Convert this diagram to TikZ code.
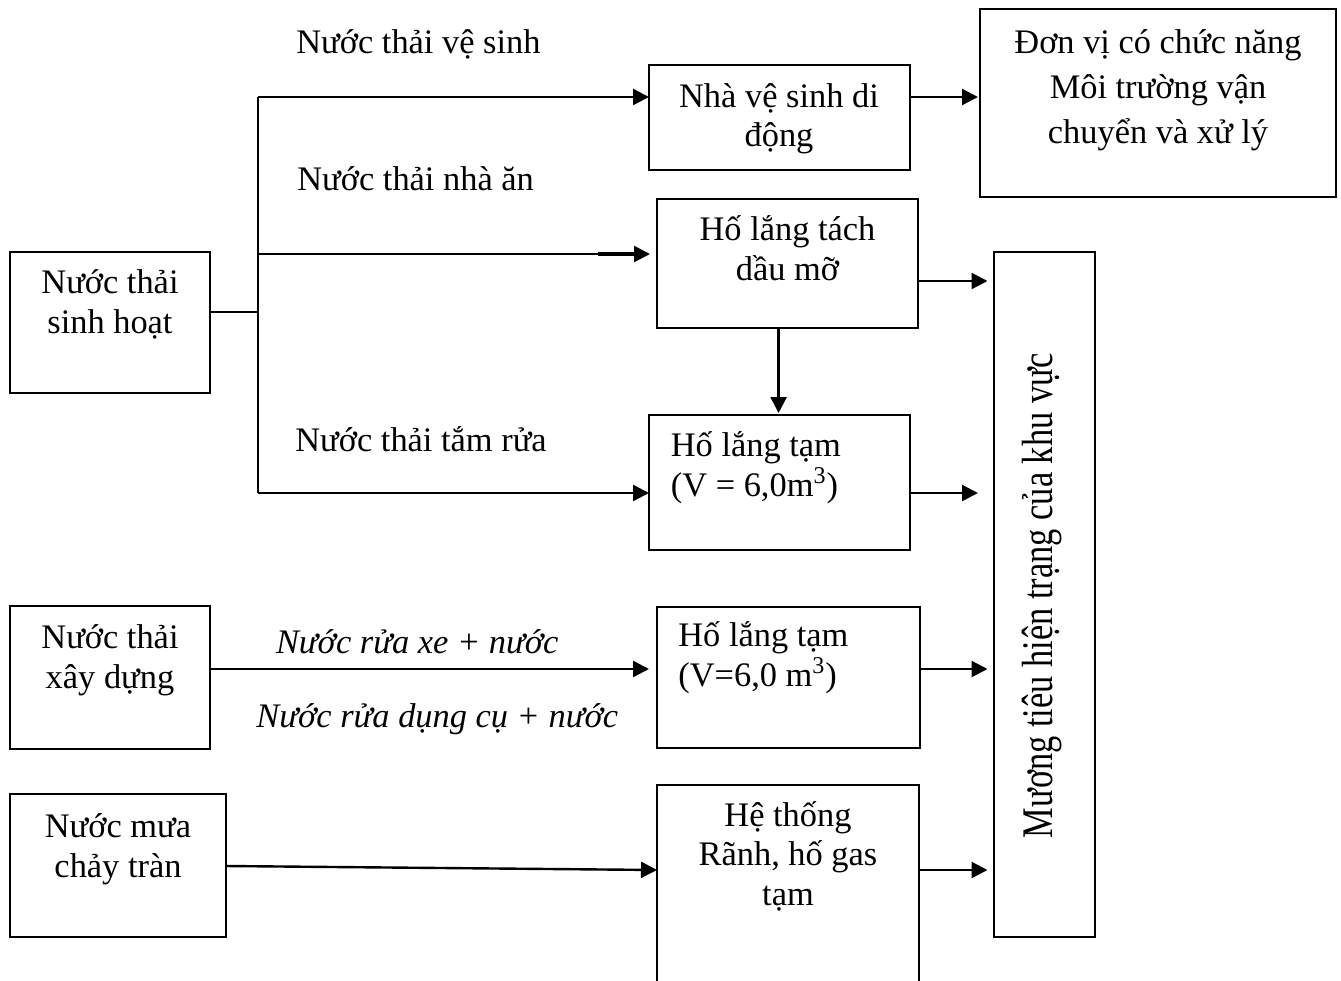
\documentclass[tikz,border=0pt]{standalone}
\usepackage{fontspec}
\setmainfont{Liberation Serif}
\usetikzlibrary{arrows.meta}
\begin{document}
\begin{tikzpicture}[x=0.5pt,y=-0.5pt,
  box/.style={draw,line width=1pt,inner sep=0pt,outer sep=0pt,anchor=north west},
  txt/.style={font=\fontsize{17.2}{19.75}\selectfont,inner sep=0pt,align=center,anchor=base},
  txtl/.style={txt,align=left,anchor=base west},
  lbl/.style={txt,anchor=base west},
  ilbl/.style={lbl,font=\fontsize{17.2}{19.75}\selectfont\itshape},
  flow/.style={line width=1.2pt,-{Triangle[length=8pt,width=8pt]}},
  plain/.style={line width=1.2pt}]
\clip (0,0) rectangle (1341,981);
\fill[white] (0,0) rectangle (1341,981);
% boxes
\node[box,minimum width=100pt,minimum height=70.5pt] (A) at (10,252) {};
\node[box,minimum width=130.5pt,minimum height=52.5pt] (B) at (649,65) {};
\node[box,minimum width=130.5pt,minimum height=64.5pt] (C) at (657,199) {};
\node[box,minimum width=178pt,minimum height=94pt] (D) at (980,9) {};
\node[box,minimum width=130.5pt,minimum height=67.5pt] (E) at (649,415) {};
\node[box,minimum width=50.5pt,minimum height=342.5pt] (F) at (994,252) {};
\node[box,minimum width=100pt,minimum height=71.5pt] (G) at (10,606) {};
\node[box,minimum width=131.5pt,minimum height=70.5pt] (H) at (657,607) {};
\node[box,minimum width=108pt,minimum height=71.5pt] (I) at (10,794) {};
\node[box,minimum width=131pt,minimum height=110pt] (J) at (657,785) {};
% box texts (anchor = baseline of last line)
\node[txt] (At) at (110,333) {Nước thải\\sinh hoạt};
\node[txt] (Bt) at (779,146.7) {Nhà vệ sinh di\\động};
\node[txt] (Ct) at (787.5,280) {Hố lắng tách\\dầu mỡ};
\node[txt,font=\fontsize{17.2}{22.5}\selectfont] (Dt) at (1158,143.3) {Đơn vị có chức năng\\Môi trường vận\\chuyển và xử lý};
\node[txtl] (Et) at (670.5,496) {Hố lắng tạm\\(V = 6,0m\textsuperscript{3})};
\node[txtl] (Ht) at (678,686) {Hố lắng tạm\\(V=6,0 m\textsuperscript{3})};
\node[txt] (Gt) at (110,688) {Nước thải\\xây dựng};
\node[txt] (It) at (118,877) {Nước mưa\\chảy tràn};
\node[txt] (Jt) at (788,905) {Hệ thống\\Rãnh, hố gas\\tạm};
\node[txt,rotate=90] (Ft) at (1052,595.5) {\scalebox{1}[1.27]{Mương tiêu hiện trạng của khu vực}};
% flow labels
\node[lbl] (L1) at (296,53.3) {Nước thải vệ sinh};
\node[lbl] (L2) at (297,190) {Nước thải nhà ăn};
\node[lbl] (L3) at (295,451.7) {Nước thải tắm rửa};
\node[ilbl] (L4) at (275.6,653) {Nước rửa xe + nước};
\node[ilbl] (L5) at (256,727) {Nước rửa dụng cụ + nước};
% coordinates
\coordinate (j) at (258,312);
\coordinate (jt) at (258,97);
\coordinate (jm) at (258,254);
\coordinate (jb) at (258,493);
\coordinate (yC) at (0,281);
\coordinate (xv) at (778.6,0);
\coordinate (yG) at (0,669);
\coordinate (yI1) at (0,866);
\coordinate (yI2) at (0,870);
% connectors
\draw[plain] (A.east |- j) -- (j);
\draw[plain] (jt) -- (jb);
\draw[flow] (jt) -- (B.west |- jt);
\draw[flow,shorten >=3.5pt] (jm) -- (C.west |- jm);
\draw[line width=1.8pt] (598,254) -- (640,254);
\draw[flow] (jb) -- (E.west |- jb);
\draw[flow,shorten >=1pt] (B.east |- jt) -- (D.west |- jt);
\draw[flow,shorten >=3.25pt] (C.east |- yC) -- (F.west |- yC);
\draw[flow,shorten >=1pt] (C.south -| xv) -- (E.north -| xv);
\draw[flow,shorten >=8pt] (E.east |- jb) -- (F.west |- jb);
\draw[flow,shorten >=4pt] (G.east |- yG) -- (H.west |- yG);
\draw[flow,shorten >=3.25pt] (H.east |- yG) -- (F.west |- yG);
\draw[flow] (I.east |- yI1) -- (J.west |- yI2);
\draw[flow,shorten >=3.25pt] (J.east |- yI2) -- (F.west |- yI2);
\end{tikzpicture}
\end{document}
